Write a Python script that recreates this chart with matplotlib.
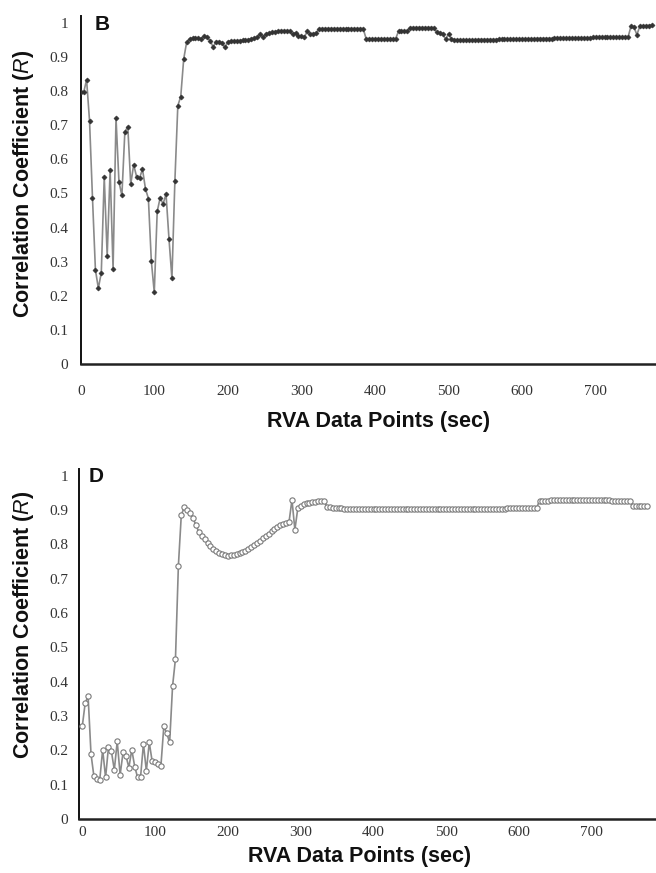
import matplotlib
matplotlib.use("Agg")
import matplotlib.pyplot as plt

# ---------------- data ----------------
# Panel B: correlation coefficient sampled every 4 s
b_time = list(range(0, 780, 4))
b_r = [
    0.796, 0.796, 0.833, 0.713, 0.488, 0.276, 0.222, 0.268, 0.549, 0.317,
    0.569, 0.278, 0.721, 0.534, 0.494, 0.680, 0.696, 0.527, 0.584, 0.549,
    0.545, 0.571, 0.514, 0.485, 0.302, 0.210, 0.447, 0.487, 0.469, 0.498,
    0.367, 0.251, 0.535, 0.757, 0.784, 0.894, 0.943, 0.953, 0.955, 0.955,
    0.955, 0.953, 0.962, 0.957, 0.948, 0.929, 0.945, 0.945, 0.940, 0.928,
    0.944, 0.947, 0.946, 0.947, 0.948, 0.949, 0.950, 0.951, 0.953, 0.955,
    0.957, 0.967, 0.958, 0.968, 0.970, 0.972, 0.974, 0.976, 0.977, 0.977,
    0.977, 0.975, 0.966, 0.971, 0.962, 0.960, 0.958, 0.975, 0.968, 0.968,
    0.969, 0.983, 0.983, 0.983, 0.983, 0.983, 0.983, 0.983, 0.983, 0.983,
    0.983, 0.983, 0.983, 0.983, 0.983, 0.983, 0.983, 0.953, 0.953, 0.953,
    0.953, 0.953, 0.953, 0.953, 0.953, 0.953, 0.953, 0.953, 0.975, 0.975,
    0.975, 0.976, 0.986, 0.986, 0.986, 0.986, 0.986, 0.986, 0.986, 0.986,
    0.986, 0.972, 0.970, 0.968, 0.952, 0.968, 0.952, 0.950, 0.950, 0.950,
    0.950, 0.950, 0.950, 0.950, 0.950, 0.951, 0.951, 0.951, 0.951, 0.951,
    0.951, 0.951, 0.952, 0.952, 0.952, 0.952, 0.952, 0.952, 0.952, 0.953,
    0.953, 0.953, 0.953, 0.953, 0.953, 0.954, 0.954, 0.954, 0.954, 0.954,
    0.954, 0.955, 0.955, 0.955, 0.955, 0.955, 0.955, 0.956, 0.956, 0.956,
    0.956, 0.956, 0.956, 0.956, 0.957, 0.957, 0.957, 0.957, 0.957, 0.957,
    0.957, 0.958, 0.958, 0.958, 0.958, 0.958, 0.958, 0.990, 0.988, 0.965,
    0.990, 0.991, 0.991, 0.992, 0.993,
]

# Panel D: correlation coefficient sampled every 4 s
d_time = list(range(0, 780, 4))
d_r = [
    0.270, 0.338, 0.358, 0.189, 0.124, 0.116, 0.114, 0.202, 0.121, 0.210,
    0.197, 0.143, 0.226, 0.129, 0.194, 0.184, 0.150, 0.202, 0.153, 0.121,
    0.121, 0.219, 0.140, 0.223, 0.168, 0.165, 0.161, 0.155, 0.270, 0.250,
    0.223, 0.387, 0.467, 0.738, 0.886, 0.908, 0.901, 0.892, 0.877, 0.857,
    0.837, 0.826, 0.816, 0.804, 0.795, 0.787, 0.781, 0.776, 0.771, 0.768,
    0.767, 0.768, 0.770, 0.772, 0.775, 0.778, 0.782, 0.787, 0.792, 0.798,
    0.804, 0.811, 0.818, 0.825, 0.832, 0.839, 0.846, 0.852, 0.857, 0.861,
    0.864, 0.866, 0.930, 0.843, 0.905, 0.912, 0.917, 0.920, 0.922, 0.924,
    0.925, 0.926, 0.927, 0.927, 0.910, 0.908, 0.906, 0.905, 0.905, 0.905,
    0.904, 0.904, 0.904, 0.904, 0.904, 0.904, 0.903, 0.903, 0.903, 0.903,
    0.903, 0.903, 0.903, 0.903, 0.903, 0.903, 0.902, 0.902, 0.902, 0.902,
    0.902, 0.902, 0.902, 0.902, 0.902, 0.902, 0.902, 0.902, 0.902, 0.902,
    0.902, 0.902, 0.902, 0.902, 0.902, 0.902, 0.902, 0.902, 0.902, 0.903,
    0.903, 0.903, 0.903, 0.903, 0.903, 0.903, 0.903, 0.903, 0.903, 0.903,
    0.904, 0.904, 0.904, 0.904, 0.904, 0.904, 0.905, 0.905, 0.905, 0.905,
    0.905, 0.905, 0.905, 0.906, 0.906, 0.906, 0.906, 0.928, 0.928, 0.928,
    0.928, 0.929, 0.929, 0.929, 0.929, 0.929, 0.929, 0.930, 0.930, 0.930,
    0.930, 0.930, 0.930, 0.930, 0.930, 0.930, 0.929, 0.929, 0.929, 0.929,
    0.929, 0.929, 0.928, 0.928, 0.928, 0.928, 0.928, 0.928, 0.928, 0.912,
    0.912, 0.912, 0.912, 0.912, 0.912,
]

y_ticks = [0, 0.1, 0.2, 0.3, 0.4, 0.5, 0.6, 0.7, 0.8, 0.9, 1]
y_tick_labels = ["0", "0.1", "0.2", "0.3", "0.4", "0.5", "0.6", "0.7", "0.8", "0.9", "1"]
x_ticks = [0, 100, 200, 300, 400, 500, 600, 700]
x_tick_labels = ["0", "100", "200", "300", "400", "500", "600", "700"]
y_label = r"Correlation Coefficient ($\mathit{R}$)"
x_label = "RVA Data Points (sec)"

# ---------------- style ----------------
plt.rcParams["mathtext.fontset"] = "custom"
plt.rcParams["mathtext.it"] = "Liberation Sans:italic"
plt.rcParams["mathtext.rm"] = "Liberation Sans:bold"

W, H = 656, 873
fig = plt.figure(figsize=(W / 100, H / 100), dpi=100)
fig.patch.set_facecolor("white")


def frac(left, top, right, bottom):
    return [left / W, 1 - bottom / H, (right - left) / W, (bottom - top) / H]


ax_b = fig.add_axes(frac(80.7, 16, 656, 364))
ax_d = fig.add_axes(frac(79, 469, 656, 819))

label_font = dict(family="Liberation Sans", weight="bold", size=15.5)


def style(ax, xlim, xpad, ypad):
    for s in ("top", "right"):
        ax.spines[s].set_visible(False)
    ax.spines["left"].set_linewidth(1.4)
    ax.spines["bottom"].set_linewidth(1.8)
    ax.spines["left"].set_color("#111111")
    ax.spines["bottom"].set_color("#222222")
    ax.set_xlim(*xlim)
    ax.set_ylim(0, 1.02)
    ax.set_yticks(y_ticks)
    ax.set_yticklabels(y_tick_labels)
    ax.set_xticks(x_ticks)
    ax.set_xticklabels(x_tick_labels)
    ax.tick_params(axis="x", length=0, pad=xpad)
    ax.tick_params(axis="y", length=0, pad=ypad)
    for lab in ax.get_xticklabels() + ax.get_yticklabels():
        lab.set_fontfamily("Liberation Serif")
        lab.set_fontsize(11)
        lab.set_color("#333333")
    ax.set_ylabel(y_label, fontdict=label_font, color="#111111")
    ax.set_xlabel(x_label, fontdict=label_font, color="#111111")


# Panel B
ax_b.plot(b_time, b_r, color="#8a8a8a", lw=1.2, marker="D", ms=2.6,
          mfc="#333333", mec="#333333", mew=0.4, zorder=3)
style(ax_b, (0, 782), 15, 9)
ax_b.yaxis.set_label_coords(-0.100, 0.517)
ax_b.xaxis.set_label_coords(0.517, -0.164)
ax_b.xaxis.label.set_va("center")
ax_b.yaxis.label.set_va("center")
ax_b.text(0.025, 0.975, "B", transform=ax_b.transAxes, family="Liberation Sans",
          weight="bold", size=15, va="center", ha="left", color="#111111")

# Panel D
ax_d.plot(d_time, d_r, color="#8a8a8a", lw=1.2, marker="o", ms=3.8,
          mfc="white", mec="#7a7a7a", mew=0.8, zorder=3)
style(ax_d, (-4.5, 788), 4.8, 8)
ax_d.yaxis.set_label_coords(-0.097, 0.554)
ax_d.xaxis.set_label_coords(0.487, -0.106)
ax_d.xaxis.label.set_va("center")
ax_d.yaxis.label.set_va("center")
ax_d.text(0.016, 0.98, "D", transform=ax_d.transAxes, family="Liberation Sans",
          weight="bold", size=15, va="center", ha="left", color="#111111")

fig.savefig("out.png", dpi=100, facecolor="white")
